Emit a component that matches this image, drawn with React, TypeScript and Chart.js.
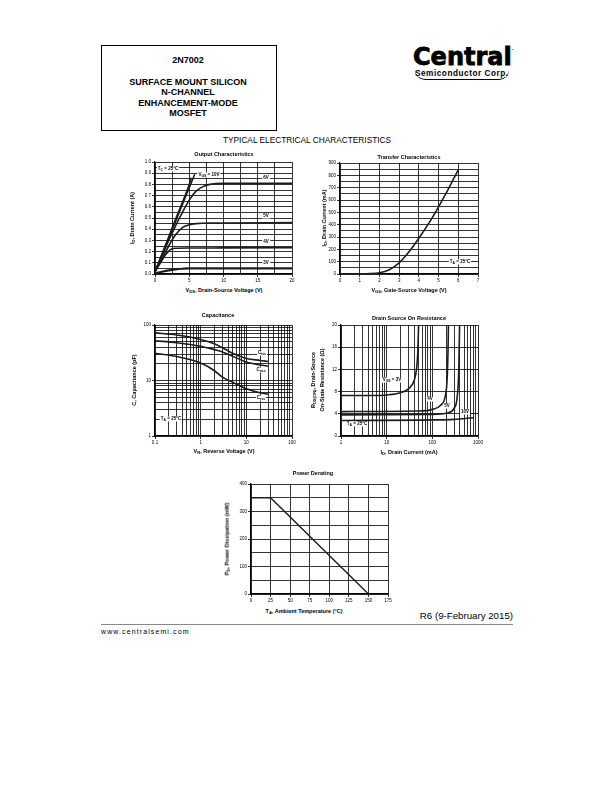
import React, { useEffect, useRef } from "react";
import { Chart, registerables } from "chart.js";

Chart.register(...registerables);

const FONT = "'Liberation Sans', Arial, Helvetica, sans-serif";

// ---------- Output Characteristics ----------
const OUT_X_TICKS = [0, 2.5, 5, 7.5, 10, 12.5, 15, 17.5, 20];
const OUT_X_LABELS = [0, 5, 10, 15, 20];
const OUT_Y_TICKS = [0, 0.05, 0.1, 0.15, 0.2, 0.25, 0.3, 0.35, 0.4, 0.45, 0.5, 0.55, 0.6, 0.65, 0.7, 0.75, 0.8, 0.85, 0.9, 0.95, 1.0];
const OUT_Y_LABELS = [0, 0.1, 0.2, 0.3, 0.4, 0.5, 0.6, 0.7, 0.8, 0.9, 1.0];
const OUT_10V_X = [0, 1, 2, 3, 4, 5, 5.8];
const OUT_10V_Y = [0.02, 0.17, 0.32, 0.47, 0.62, 0.77, 0.89];
const OUT_8V_X = [0, 1, 2, 3, 4, 5, 5.3];
const OUT_8V_Y = [0.02, 0.175, 0.33, 0.49, 0.64, 0.8, 0.86];
const OUT_6V_X = [0, 1, 2, 3, 4, 5, 6, 7, 8, 10, 15, 20];
const OUT_6V_Y = [0.02, 0.16, 0.3, 0.43, 0.55, 0.66, 0.74, 0.78, 0.8, 0.81, 0.81, 0.81];
const OUT_5V_X = [0, 1, 2, 3, 4, 5, 6, 8, 10, 20];
const OUT_5V_Y = [0.02, 0.13, 0.25, 0.35, 0.415, 0.44, 0.45, 0.455, 0.455, 0.46];
const OUT_4V_X = [0, 0.5, 1, 1.5, 2, 2.5, 3, 5, 10, 20];
const OUT_4V_Y = [0.02, 0.07, 0.12, 0.17, 0.205, 0.225, 0.23, 0.232, 0.233, 0.235];
const OUT_3V_X = [0, 1, 2, 3, 4, 5, 10, 20];
const OUT_3V_Y = [0.005, 0.02, 0.033, 0.042, 0.047, 0.05, 0.05, 0.05];

// ---------- Transfer Characteristics ----------
const TR_X_TICKS = [0, 1, 2, 3, 4, 5, 6, 7];
const TR_Y_TICKS = [0, 50, 100, 150, 200, 250, 300, 350, 400, 450, 500, 550, 600, 650, 700, 750, 800, 850, 900];
const TR_Y_LABELS = [0, 100, 200, 300, 400, 500, 600, 700, 800, 900];
const TR_VGS = [0, 1, 1.5, 2, 2.5, 3, 3.5, 4, 4.5, 5, 5.5, 6];
const TR_ID = [0, 1, 3, 10, 35, 90, 180, 290, 410, 545, 690, 845];

// ---------- Capacitance ----------
const CAP_X_TICKS = [0.1, 0.2, 0.3, 0.4, 0.5, 0.6, 0.7, 0.8, 0.9, 1, 2, 3, 4, 5, 6, 7, 8, 9, 10, 20, 30, 40, 50, 60, 70, 80, 90, 100];
const CAP_X_LABELS = [0.1, 1, 10, 100];
const CAP_Y_TICKS = [1, 2, 3, 4, 5, 6, 7, 8, 9, 10, 20, 30, 40, 50, 60, 70, 80, 90, 100];
const CAP_Y_LABELS = [1, 10, 100];
const CAP_VR = [0.1, 0.3, 1, 2, 3, 5, 10, 20, 30];
const CAP_CISS = [72, 66, 55, 46, 39, 31, 25, 23, 22];
const CAP_COSS = [52, 48, 41.5, 36, 32.7, 27.5, 21.5, 19, 18.2];
const CAP_CRSS = [31, 27, 20.6, 15, 11.5, 9.3, 7.1, 6, 5.7];

// ---------- Drain Source On Resistance ----------
const RON_X_TICKS = [1, 2, 3, 4, 5, 6, 7, 8, 9, 10, 20, 30, 40, 50, 60, 70, 80, 90, 100, 200, 300, 400, 500, 600, 700, 800, 900, 1000];
const RON_X_LABELS = [1, 10, 100, 1000];
const RON_Y_TICKS = [0, 4, 8, 12, 16, 20];
const RON_3V_X = [1, 5, 10, 20, 30, 40, 45, 48, 50];
const RON_3V_Y = [7.3, 7.3, 7.4, 7.8, 8.5, 10, 12, 15, 20];
const RON_4V_X = [1, 50, 100, 150, 190, 210, 220, 225];
const RON_4V_Y = [4.4, 4.5, 4.8, 5.5, 7, 10, 15, 20];
const RON_5V_X = [1, 100, 200, 300, 350, 380, 395];
const RON_5V_Y = [3.8, 3.9, 4.1, 5, 7, 12, 20];
const RON_10V_X = [1, 100, 300, 800];
const RON_10V_Y = [2.8, 2.9, 3.0, 3.3];

// ---------- Power Derating ----------
const PD_X_TICKS = [0, 25, 50, 75, 100, 125, 150, 175];
const PD_Y_TICKS = [0, 50, 100, 150, 200, 250, 300, 350, 400];
const PD_Y_LABELS = [0, 100, 200, 300, 400];
const PD_TA = [0, 25, 150];
const PD_MW = [350, 350, 0];

type AxisSpec = {
  type: "linear" | "logarithmic";
  min: number;
  max: number;
  ticks: number[];
  labels: number[];
  fmt: (v: number) => string;
};
type Series = { x: number[]; y: number[]; w?: number; straight?: boolean };
type Spec = { left: number; top: number; width: number; height: number; x: AxisSpec; y: AxisSpec; series: Series[] };

const PAD_L = 24, PAD_T = 6, PAD_R = 10, PAD_B = 12;

function isLabel(a: AxisSpec, v: number) {
  return a.labels.some((l) => Math.abs(l - v) < 1e-6 * Math.max(1, Math.abs(l)));
}

function scaleCfg(a: AxisSpec, axis: "x" | "y") {
  return {
    type: a.type,
    min: a.min,
    max: a.max,
    position: axis === "x" ? "bottom" : "left",
    afterBuildTicks: (s: any) => {
      s.ticks = a.ticks.map((v) => ({ value: v }));
    },
    afterFit: (s: any) => {
      if (axis === "x") s.height = PAD_B;
      else s.width = PAD_L;
    },
    ticks: {
      autoSkip: false,
      maxRotation: 0,
      minRotation: 0,
      padding: 1,
      color: "#000",
      font: { family: FONT, size: 4.5 },
      callback: (v: any) => (isLabel(a, Number(v)) ? a.fmt(Number(v)) : ""),
    },
    grid: {
      color: "#000",
      lineWidth: 0.8,
      tickLength: 3,
      tickColor: (ctx: any) => (ctx.tick && isLabel(a, ctx.tick.value) ? "#000" : "rgba(0,0,0,0)"),
    },
    border: { color: "#000", width: 1.2 },
  };
}

function Plot({ spec }: { spec: Spec }) {
  const ref = useRef<HTMLCanvasElement>(null);
  const W = spec.width + PAD_L + PAD_R;
  const H = spec.height + PAD_T + PAD_B;
  useEffect(() => {
    const chart = new Chart(ref.current as HTMLCanvasElement, {
      type: "line",
      data: {
        datasets: spec.series.map((s) => ({
          data: s.x.map((x, i) => ({ x, y: s.y[i] })),
          borderColor: "#1c1c1c",
          borderWidth: s.w ?? 1.6,
          pointRadius: 0,
          fill: false,
          tension: 0,
          cubicInterpolationMode: s.straight ? "default" : "monotone",
        })),
      } as any,
      options: {
        animation: false,
        responsive: false,
        devicePixelRatio: 1,
        layout: { autoPadding: false, padding: { left: 0, top: PAD_T, right: PAD_R, bottom: 0 } },
        plugins: { legend: { display: false }, tooltip: { enabled: false }, title: { display: false } },
        scales: { x: scaleCfg(spec.x, "x"), y: scaleCfg(spec.y, "y") } as any,
      } as any,
    });
    return () => chart.destroy();
  }, []);
  return (
    <canvas
      ref={ref}
      width={W}
      height={H}
      style={{ position: "absolute", left: spec.left - PAD_L, top: spec.top - PAD_T, width: W, height: H }}
    />
  );
}

const fmtInt = (v: number) => String(v);
const fmt1 = (v: number) => v.toFixed(1);

const OUT_SPEC: Spec = {
  left: 155, top: 162, width: 137, height: 112,
  x: { type: "linear", min: 0, max: 20, ticks: OUT_X_TICKS, labels: OUT_X_LABELS, fmt: fmtInt },
  y: { type: "linear", min: 0, max: 1, ticks: OUT_Y_TICKS, labels: OUT_Y_LABELS, fmt: fmt1 },
  series: [
    { x: OUT_10V_X, y: OUT_10V_Y },
    { x: OUT_8V_X, y: OUT_8V_Y },
    { x: OUT_6V_X, y: OUT_6V_Y },
    { x: OUT_5V_X, y: OUT_5V_Y },
    { x: OUT_4V_X, y: OUT_4V_Y },
    { x: OUT_3V_X, y: OUT_3V_Y, w: 2.2 },
  ],
};

const TR_SPEC: Spec = {
  left: 340, top: 163, width: 138, height: 111,
  x: { type: "linear", min: 0, max: 7, ticks: TR_X_TICKS, labels: TR_X_TICKS, fmt: fmtInt },
  y: { type: "linear", min: 0, max: 900, ticks: TR_Y_TICKS, labels: TR_Y_LABELS, fmt: fmtInt },
  series: [{ x: TR_VGS, y: TR_ID }],
};

const CAP_SPEC: Spec = {
  left: 155, top: 325, width: 137, height: 111,
  x: { type: "logarithmic", min: 0.1, max: 100, ticks: CAP_X_TICKS, labels: CAP_X_LABELS, fmt: fmtInt },
  y: { type: "logarithmic", min: 1, max: 100, ticks: CAP_Y_TICKS, labels: CAP_Y_LABELS, fmt: fmtInt },
  series: [
    { x: CAP_VR, y: CAP_CISS },
    { x: CAP_VR, y: CAP_COSS },
    { x: CAP_VR, y: CAP_CRSS },
  ],
};

const RON_SPEC: Spec = {
  left: 341, top: 325, width: 137, height: 111,
  x: { type: "logarithmic", min: 1, max: 1000, ticks: RON_X_TICKS, labels: RON_X_LABELS, fmt: fmtInt },
  y: { type: "linear", min: 0, max: 20, ticks: RON_Y_TICKS, labels: RON_Y_TICKS, fmt: fmtInt },
  series: [
    { x: RON_3V_X, y: RON_3V_Y },
    { x: RON_4V_X, y: RON_4V_Y },
    { x: RON_5V_X, y: RON_5V_Y },
    { x: RON_10V_X, y: RON_10V_Y },
  ],
};

const PD_SPEC: Spec = {
  left: 251, top: 484, width: 137, height: 110,
  x: { type: "linear", min: 0, max: 175, ticks: PD_X_TICKS, labels: PD_X_TICKS, fmt: fmtInt },
  y: { type: "linear", min: 0, max: 400, ticks: PD_Y_TICKS, labels: PD_Y_LABELS, fmt: fmtInt },
  series: [{ x: PD_TA, y: PD_MW, w: 1.4, straight: true }],
};

const Sub = ({ children }: { children: React.ReactNode }) => (
  <span style={{ fontSize: "75%", position: "relative", top: "0.35em" }}>{children}</span>
);

function Txt({ x, y, children, size = 5.5, bold = true, bg, align = "center" }: any) {
  const tx = align === "center" ? "-50%" : align === "right" ? "-100%" : "0";
  return (
    <div
      style={{
        position: "absolute",
        left: x,
        top: y,
        transform: `translate(${tx},-50%)`,
        whiteSpace: "nowrap",
        fontFamily: FONT,
        fontSize: size,
        fontWeight: bold ? 700 : 400,
        lineHeight: 1.1,
        color: "#000",
        background: bg,
        padding: bg ? "0 1px" : undefined,
      }}
    >
      {children}
    </div>
  );
}

function RotTxt({ x, y, children, size = 5.5 }: any) {
  return (
    <div
      style={{
        position: "absolute",
        left: x,
        top: y,
        transform: "translate(-50%,-50%) rotate(-90deg)",
        whiteSpace: "nowrap",
        fontFamily: FONT,
        fontSize: size,
        fontWeight: 700,
        lineHeight: 1.1,
        color: "#000",
      }}
    >
      {children}
    </div>
  );
}

const NOTE = 4.5;

export default function App() {
  return (
    <div style={{ position: "absolute", left: 0, top: 0, width: 612, height: 792, background: "#fff", overflow: "hidden" }}>
      {/* Header box */}
      <div style={{ position: "absolute", left: 101, top: 45, width: 174, height: 84, border: "1px solid #000" }} />
      <Txt x={188} y={61} size={9}>2N7002</Txt>
      <Txt x={188} y={83} size={9}>SURFACE MOUNT SILICON</Txt>
      <Txt x={188} y={93} size={9}>N-CHANNEL</Txt>
      <Txt x={188} y={103.5} size={9}>ENHANCEMENT-MODE</Txt>
      <Txt x={188} y={114} size={9}>MOSFET</Txt>

      {/* Logo */}
      <div style={{ position: "absolute", left: 413, top: 45, fontFamily: "'DejaVu Sans', sans-serif", fontWeight: 700, fontSize: 24, letterSpacing: 0, lineHeight: 1, color: "#000", WebkitTextStroke: "0.8px #000" }}>
        Central
      </div>
      <div style={{ position: "absolute", left: 511, top: 48, fontFamily: FONT, fontSize: 3, color: "#000" }}>™</div>
      <div style={{ position: "absolute", left: 415, top: 70, fontFamily: FONT, fontWeight: 700, fontSize: 8.2, letterSpacing: 0.55, lineHeight: 1, color: "#000", borderBottom: "1.5px solid #000", borderRadius: "0 0 40px 40px", paddingBottom: 1 }}>
        Semiconductor Corp.
      </div>

      <Txt x={307} y={141} size={8.3} bold={false}>TYPICAL ELECTRICAL CHARACTERISTICS</Txt>

      {/* Output Characteristics */}
      <Plot spec={OUT_SPEC} />
      <Txt x={224} y={154}>Output Characteristics</Txt>
      <Txt x={224} y={290}>V<Sub>DS</Sub>, Drain-Source Voltage (V)</Txt>
      <RotTxt x={132} y={218}>I<Sub>D</Sub>, Drain Current (A)</RotTxt>
      <Txt x={168} y={169} size={NOTE} bg="#fff">T<Sub>C</Sub> = 25°C</Txt>
      <Txt x={209} y={175} size={NOTE} bg="#fff">V<Sub>GS</Sub> = 10V</Txt>
      <Txt x={266} y={178} size={NOTE} bg="#fff">6V</Txt>
      <Txt x={266} y={216} size={NOTE} bg="#fff">5V</Txt>
      <Txt x={266} y={242} size={NOTE} bg="#fff">4V</Txt>
      <Txt x={266} y={263} size={NOTE} bg="#fff">3V</Txt>

      {/* Transfer Characteristics */}
      <Plot spec={TR_SPEC} />
      <Txt x={409} y={157}>Transfer Characteristics</Txt>
      <Txt x={409} y={290}>V<Sub>GS</Sub>, Gate-Source Voltage (V)</Txt>
      <RotTxt x={324} y={218}>I<Sub>D</Sub>, Drain Current (mA)</RotTxt>
      <Txt x={460} y={262} size={NOTE} bg="#fff">T<Sub>A</Sub> = 25°C</Txt>

      {/* Capacitance */}
      <Plot spec={CAP_SPEC} />
      <Txt x={218} y={315}>Capacitance</Txt>
      <Txt x={224} y={451}>V<Sub>R</Sub>, Reverse Voltage (V)</Txt>
      <RotTxt x={134} y={380}>C, Capacitance (pF)</RotTxt>
      <Txt x={262} y={353} size={NOTE} bg="#fff">C<Sub>iss</Sub></Txt>
      <Txt x={261} y={370} size={NOTE} bg="#fff">C<Sub>oss</Sub></Txt>
      <Txt x={261} y={398} size={NOTE} bg="#fff">C<Sub>rss</Sub></Txt>
      <Txt x={171} y={419} size={NOTE} bg="#fff">T<Sub>A</Sub> = 25°C</Txt>

      {/* Drain Source On Resistance */}
      <Plot spec={RON_SPEC} />
      <Txt x={409} y={318}>Drain Source On Resistance</Txt>
      <Txt x={409} y={452}>I<Sub>D</Sub>, Drain Current (mA)</Txt>
      <RotTxt x={313} y={380}>R<Sub>DS(ON)</Sub>, Drain-Source</RotTxt>
      <RotTxt x={322} y={380}>On-State Resistance (Ω)</RotTxt>
      <Txt x={392} y={380} size={NOTE} bg="#fff">V<Sub>GS</Sub> = 3V</Txt>
      <Txt x={430} y={399} size={NOTE} bg="#fff">4V</Txt>
      <Txt x={447} y={406} size={NOTE} bg="#fff">5V</Txt>
      <Txt x={465} y={412} size={NOTE} bg="#fff">10V</Txt>
      <Txt x={357} y={424} size={NOTE} bg="#fff">T<Sub>A</Sub> = 25°C</Txt>

      {/* Power Derating */}
      <Plot spec={PD_SPEC} />
      <Txt x={313} y={473}>Power Derating</Txt>
      <Txt x={304} y={611}>T<Sub>A</Sub>, Ambient Temperature (°C)</Txt>
      <RotTxt x={227} y={539}>P<Sub>D</Sub>, Power Dissipation (mW)</RotTxt>

      {/* Footer */}
      <Txt x={513} y={616} size={9.7} bold={false} align="right">R6 (9-February 2015)</Txt>
      <div style={{ position: "absolute", left: 101, top: 624, width: 412, height: 0, borderTop: "1px solid #888" }} />
      <Txt x={101} y={632} size={7} bold={false} align="left"><span style={{ letterSpacing: 1.1 }}>www.centralsemi.com</span></Txt>
    </div>
  );
}
